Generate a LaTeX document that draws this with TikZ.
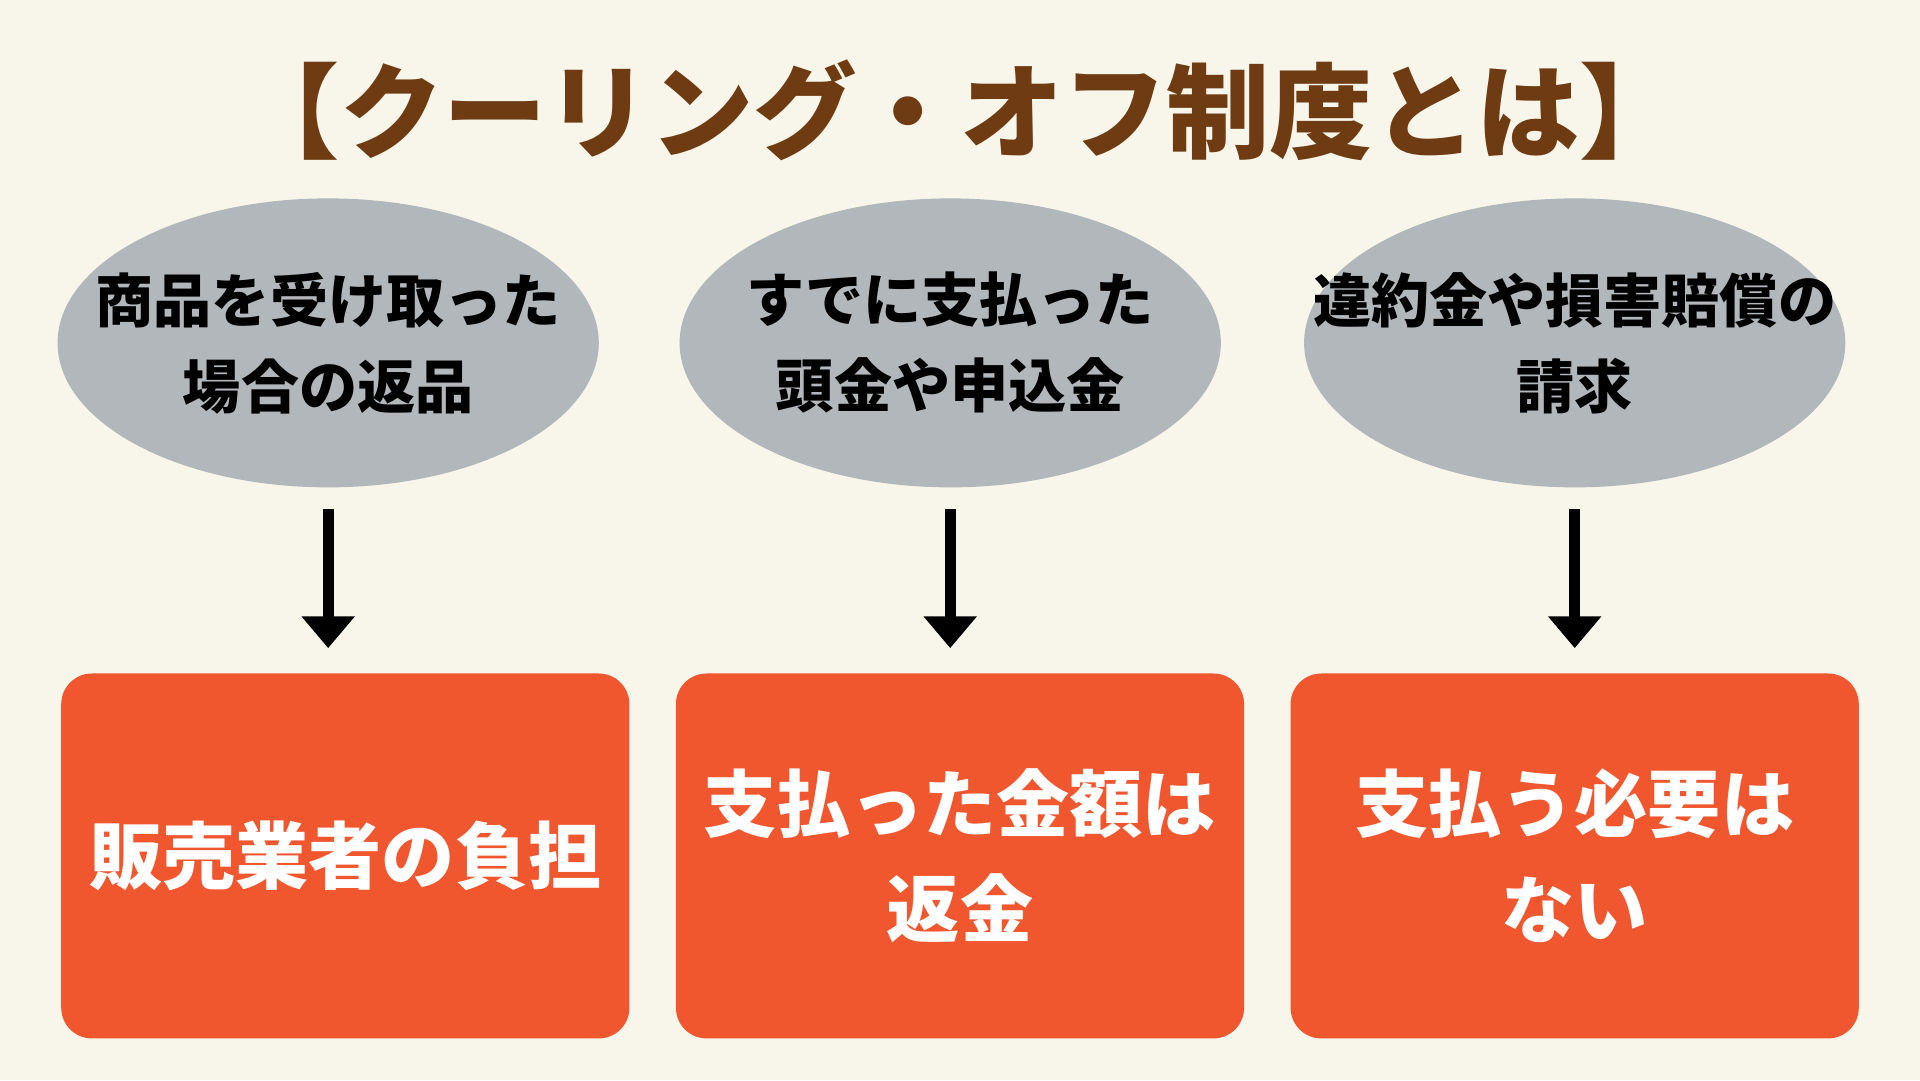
\documentclass[tikz,border=0pt]{standalone}
\usepackage{fontspec}
\setmainfont{Noto Sans CJK JP}
\usetikzlibrary{shapes.geometric,arrows.meta}
\definecolor{bgcol}{HTML}{F8F6EA}
\definecolor{titlecol}{HTML}{6E3B12}
\definecolor{ellcol}{HTML}{B2B7BB}
\definecolor{boxcol}{HTML}{F0572F}
\tikzset{
  question/.style={ellipse,fill=ellcol,minimum width=4.42cm,minimum height=2.36cm,inner sep=0pt},
  qtext/.style={align=center,font=\bfseries\fontsize{13.5}{20}\selectfont},
  answer/.style={rectangle,rounded corners=0.25cm,fill=boxcol,minimum width=4.64cm,
    minimum height=2.98cm,align=center,text=white,font=\bfseries\fontsize{17}{24.5}\selectfont},
  flow/.style={line width=2.6pt,-{Triangle[length=0.26cm,width=0.42cm]},shorten <=0.17cm,shorten >=0.2cm}
}
\begin{document}
\begin{tikzpicture}
\fill[bgcol] (0,0) rectangle (15.68,-8.82);
\useasboundingbox (0,0) rectangle (15.68,-8.82);

%Title
\node[text=titlecol,font=\bfseries\fontsize{24}{28}\selectfont] (title) at (7.84,-0.9) {【クーリング・オフ制度とは】};

%Questions
\node[question] (q1) at (2.68,-2.8) {};
\node[qtext] (t1) at (q1) {商品を受け取った\\場合の返品};
\node[question] (q2) at (7.76,-2.8) {};
\node[qtext] (t2) at (q2) {すでに支払った\\頭金や申込金};
\node[question] (q3) at (12.86,-2.8) {};
\node[qtext] (t3) at (q3) {違約金や損害賠償の\\請求};

%Answers
\node[answer] (a1) at (2.82,-6.99) {販売業者の負担};
\node[answer] (a2) at (7.84,-6.99) {支払った金額は\\返金};
\node[answer] (a3) at (12.86,-6.99) {支払う必要は\\ない};

%Arrows
\draw[flow] (q1.south) -- (q1.south |- a1.north);
\draw[flow] (q2.south) -- (q2.south |- a2.north);
\draw[flow] (q3.south) -- (q3.south |- a3.north);
\end{tikzpicture}
\end{document}
